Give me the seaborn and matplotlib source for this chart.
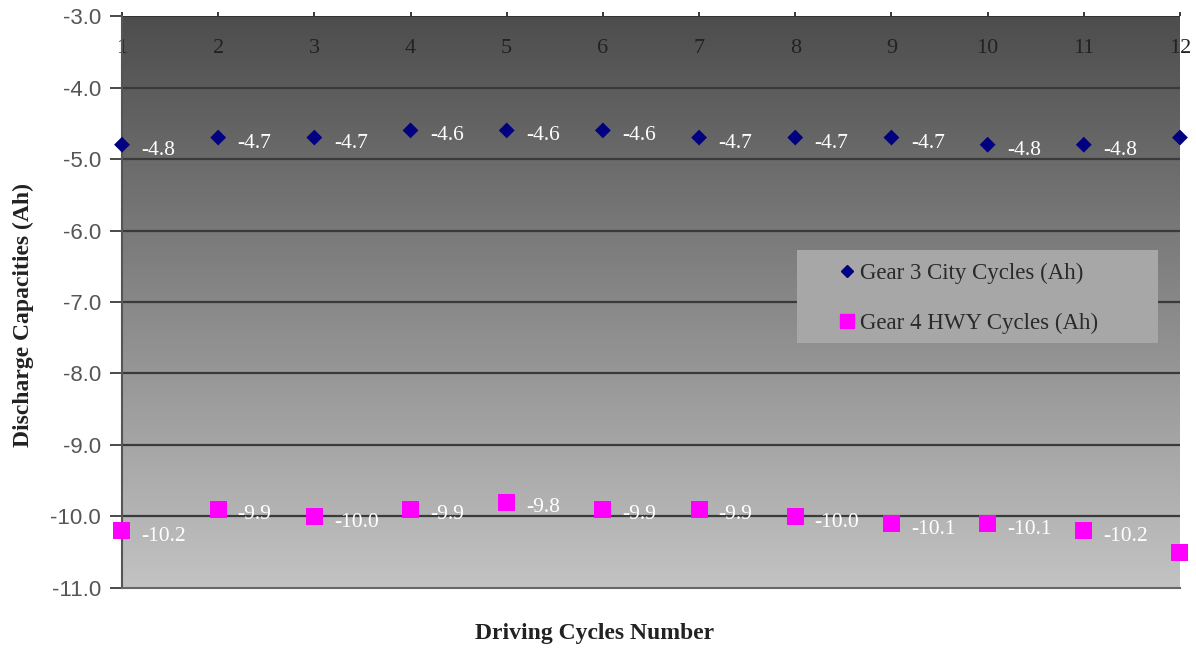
import numpy as np
import pandas as pd
import matplotlib
matplotlib.use("Agg")
import matplotlib.pyplot as plt
import seaborn as sns
from matplotlib.lines import Line2D
from matplotlib.patches import Rectangle

cycles = [1, 2, 3, 4, 5, 6, 7, 8, 9, 10, 11, 12]
gear3_city = [-4.8, -4.7, -4.7, -4.6, -4.6, -4.6, -4.7, -4.7, -4.7, -4.8, -4.8, -4.7]
gear4_hwy = [-10.2, -9.9, -10.0, -9.9, -9.8, -9.9, -9.9, -10.0, -10.1, -10.1, -10.2, -10.5]
series_names = ["Gear 3 City Cycles (Ah)", "Gear 4 HWY Cycles (Ah)"]
y_ticks = [-3.0, -4.0, -5.0, -6.0, -7.0, -8.0, -9.0, -10.0, -11.0]
n_labeled = 11

sns.set_theme(style="white")
plt.rcParams['font.family'] = ['Liberation Serif', 'DejaVu Serif']

df = pd.DataFrame({
    "cycle": cycles * 2,
    "value": gear3_city + gear4_hwy,
    "series": [series_names[0]] * len(cycles) + [series_names[1]] * len(cycles),
})

fig = plt.figure(figsize=(11.96, 6.48), dpi=100)
ax = fig.add_axes([0.102, 0.0926, 0.8846, 0.8827])

# gradient background
grad = np.linspace(0, 1, 256).reshape(-1, 1)
cmap = matplotlib.colors.LinearSegmentedColormap.from_list("g", ["#4d4d4d", "#c3c3c3"])
ax.imshow(grad, extent=[0, 1, 0, 1], transform=ax.transAxes, aspect="auto",
          cmap=cmap, origin="upper", zorder=0)

for yv in y_ticks[1:-1]:
    ax.axhline(yv, color="#3a3a3a", lw=1.6, zorder=1)

palette = {series_names[0]: "#000080", series_names[1]: "#ff00ff"}
markers = {series_names[0]: "D", series_names[1]: "s"}
sizes = {series_names[0]: 65, series_names[1]: 150}
for name in series_names:
    sub = df[df.series == name]
    sns.scatterplot(data=sub, x="cycle", y="value", color=palette[name],
                    marker=markers[name], s=sizes[name], edgecolor="none",
                    ax=ax, zorder=3, clip_on=False, legend=False)
    for i, (xv, yv) in enumerate(zip(sub.cycle, sub.value)):
        if i < n_labeled:
            ax.annotate(f"{yv:.1f}", (xv, yv), xytext=(14, -4), textcoords="offset points",
                        ha="left", va="center", color="white", fontsize=15.5, zorder=4)

ax.set_xlim(1, 12)
ax.set_ylim(-11, -3)
ax.set_yticks(y_ticks)
ax.set_yticklabels([f"{v:.1f}" for v in y_ticks], family=["Liberation Sans"], color="#555555", fontsize=16)
ax.set_xticks(cycles)
ax.set_xticklabels([str(c) for c in cycles], fontsize=16, color="#222222")
ax.tick_params(axis="x", top=True, bottom=False, labeltop=True, labelbottom=False,
               direction="out", length=3, color="#222222", pad=-33)
ax.tick_params(axis="y", left=True, direction="out", length=9, color="#333333", pad=6)

for s in ["top", "right"]:
    ax.spines[s].set_visible(False)
ax.spines["left"].set_color("#555555")
ax.spines["left"].set_linewidth(1.5)
ax.spines["bottom"].set_color("#666666")
ax.spines["bottom"].set_linewidth(1.5)
ax.axhline(-3, color="#333333", lw=1.5, zorder=2)

ax.set_xlabel("Driving Cycles Number", fontweight="bold", fontsize=17, color="#222222")
ax.set_ylabel("Discharge Capacities (Ah)", fontweight="bold", fontsize=17, color="#222222")
ax.xaxis.set_label_coords(0.447, -0.062)
ax.yaxis.set_label_coords(-0.083, 0.477)

# legend box
ax.add_patch(Rectangle((0.638, 0.428), 0.341, 0.163, transform=ax.transAxes,
                       facecolor="#a7a7a7", edgecolor="none", zorder=5))
handles = [
    Line2D([], [], linestyle="none", marker="D", color="#000080", markersize=6.5),
    Line2D([], [], linestyle="none", marker="s", color="#ff00ff", markersize=10),
]
leg = ax.legend(handles, series_names, loc="upper left", bbox_to_anchor=(0.666, 0.585),
                frameon=False, fontsize=16.5, handletextpad=0.05,
                labelspacing=1.25, borderaxespad=0, handlelength=1.0, labelcolor="#2a2a2a")
leg.set_zorder(6)

fig.savefig("out.png", dpi=100, facecolor="white")
